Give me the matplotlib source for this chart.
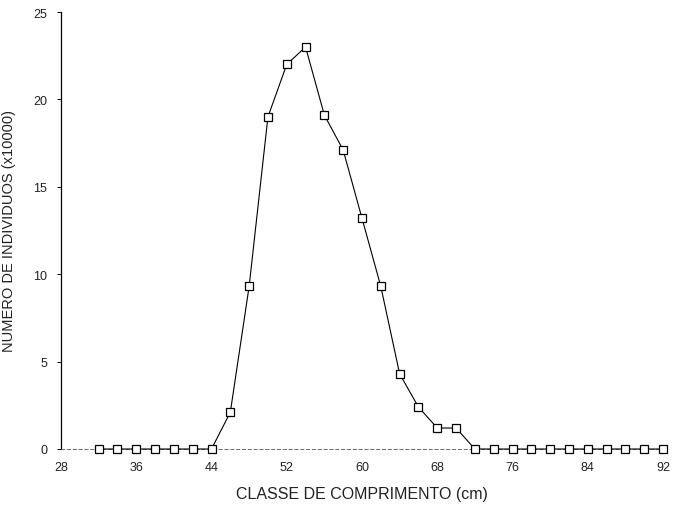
import matplotlib
matplotlib.use("Agg")
import matplotlib.pyplot as plt

plt.rcParams['font.family'] = ['Liberation Sans', 'DejaVu Sans']

classes = [32, 34, 36, 38, 40, 42, 44, 46, 48, 50, 52, 54, 56, 58, 60, 62,
           64, 66, 68, 70, 72, 74, 76, 78, 80, 82, 84, 86, 88, 90, 92]
individuos = [0, 0, 0, 0, 0, 0, 0, 2.1, 9.3, 19.0, 22.0, 23.0, 19.1, 17.1,
              13.2, 9.3, 4.3, 2.4, 1.2, 1.2, 0, 0, 0, 0, 0, 0, 0, 0, 0, 0, 0]
x_ticks = [28, 36, 44, 52, 60, 68, 76, 84, 92]
y_ticks = [0, 5, 10, 15, 20, 25]

fig = plt.figure(figsize=(6.85, 5.10), dpi=100)
ax = fig.add_axes([61/685, 60/510, 602/685, 437/510])

ax.plot(classes, individuos, color='black', lw=0.8, marker='s', markersize=5.5,
        markerfacecolor='white', markeredgecolor='black', markeredgewidth=0.9,
        clip_on=False, zorder=3)

ax.set_xlim(28, 92)
ax.set_ylim(0, 25)
ax.set_xticks(x_ticks)
ax.set_yticks(y_ticks)
ax.set_xticklabels([str(v) for v in x_ticks], fontsize=9, color='#222222')
ax.set_yticklabels([str(v) for v in y_ticks], fontsize=9, color='#222222')

for s in ['top', 'right']:
    ax.spines[s].set_visible(False)
ax.spines['left'].set_linewidth(0.9)
ax.spines['bottom'].set_linewidth(0.6)
ax.spines['bottom'].set_color('#555555')
ax.spines['bottom'].set_linestyle((0, (4, 3)))

ax.tick_params(axis='y', direction='out', length=3, width=0.7, pad=7)
ax.tick_params(axis='x', length=0, pad=9)

ax.set_xlabel('CLASSE DE COMPRIMENTO (cm)', fontsize=11.5, labelpad=9,
              color='#222222')
ax.set_ylabel('NUMERO DE INDIVIDUOS (x10000)', fontsize=10.5, labelpad=12,
              color='#222222')

fig.savefig('out.png', dpi=100, facecolor='white')
